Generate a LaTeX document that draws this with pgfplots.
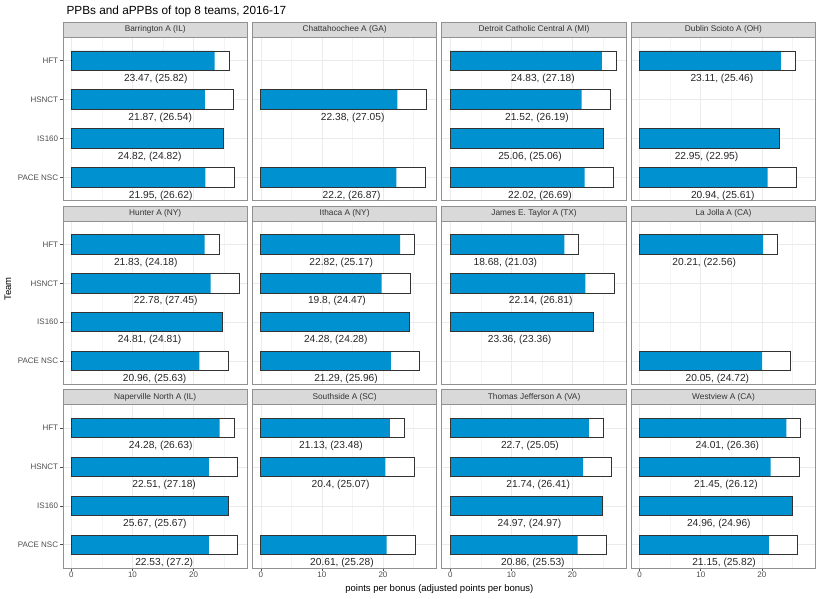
\documentclass[border=0pt]{standalone}
\usepackage{fontspec}
\setmainfont{Liberation Sans}
\usepackage{pgfplots}
\usepackage{pgfplotstable}
\pgfplotsset{compat=1.18}

\definecolor{ppbblue}{RGB}{0,146,208}
\definecolor{gridmaj}{RGB}{235,235,235}
\definecolor{gridmin}{RGB}{244,244,244}
\definecolor{panelline}{RGB}{145,145,145}
\definecolor{stripgray}{RGB}{217,217,217}
\definecolor{barline}{RGB}{51,51,51}
\definecolor{tickcol}{RGB}{77,77,77}

\newcommand\tickfont{\fontsize{8}{9}\selectfont}
\newcommand\labfont{\fontsize{10.2}{12}\selectfont}

% y: 1=HFT 2=HSNCT 3=IS160 4=PACE NSC
\pgfplotstableread{
y ppb appb lab
1 23.47 25.82 {23.47, (25.82)}
2 21.87 26.54 {21.87, (26.54)}
3 24.82 24.82 {24.82, (24.82)}
4 21.95 26.62 {21.95, (26.62)}
}\barrington
\pgfplotstableread{
y ppb appb lab
2 22.38 27.05 {22.38, (27.05)}
4 22.2 26.87 {22.2, (26.87)}
}\chattahoochee
\pgfplotstableread{
y ppb appb lab
1 24.83 27.18 {24.83, (27.18)}
2 21.52 26.19 {21.52, (26.19)}
3 25.06 25.06 {25.06, (25.06)}
4 22.02 26.69 {22.02, (26.69)}
}\detroit
\pgfplotstableread{
y ppb appb lab
1 23.11 25.46 {23.11, (25.46)}
3 22.95 22.95 {22.95, (22.95)}
4 20.94 25.61 {20.94, (25.61)}
}\dublin
\pgfplotstableread{
y ppb appb lab
1 21.83 24.18 {21.83, (24.18)}
2 22.78 27.45 {22.78, (27.45)}
3 24.81 24.81 {24.81, (24.81)}
4 20.96 25.63 {20.96, (25.63)}
}\hunter
\pgfplotstableread{
y ppb appb lab
1 22.82 25.17 {22.82, (25.17)}
2 19.8 24.47 {19.8, (24.47)}
3 24.28 24.28 {24.28, (24.28)}
4 21.29 25.96 {21.29, (25.96)}
}\ithaca
\pgfplotstableread{
y ppb appb lab
1 18.68 21.03 {18.68, (21.03)}
2 22.14 26.81 {22.14, (26.81)}
3 23.36 23.36 {23.36, (23.36)}
}\taylor
\pgfplotstableread{
y ppb appb lab
1 20.21 22.56 {20.21, (22.56)}
4 20.05 24.72 {20.05, (24.72)}
}\lajolla
\pgfplotstableread{
y ppb appb lab
1 24.28 26.63 {24.28, (26.63)}
2 22.51 27.18 {22.51, (27.18)}
3 25.67 25.67 {25.67, (25.67)}
4 22.53 27.2 {22.53, (27.2)}
}\naperville
\pgfplotstableread{
y ppb appb lab
1 21.13 23.48 {21.13, (23.48)}
2 20.4 25.07 {20.4, (25.07)}
4 20.61 25.28 {20.61, (25.28)}
}\southside
\pgfplotstableread{
y ppb appb lab
1 22.7 25.05 {22.7, (25.05)}
2 21.74 26.41 {21.74, (26.41)}
3 24.97 24.97 {24.97, (24.97)}
4 20.86 25.53 {20.86, (25.53)}
}\jefferson
\pgfplotstableread{
y ppb appb lab
1 24.01 26.36 {24.01, (26.36)}
2 21.45 26.12 {21.45, (26.12)}
3 24.96 24.96 {24.96, (24.96)}
4 21.15 25.82 {21.15, (25.82)}
}\westview

\pgfplotsset{
  panel/.style={
    scale only axis, width=184.4pt, height=163.4pt,
    anchor=north west,
    xmin=-1.3725, xmax=28.8225, ymin=0.4, ymax=4.6, y dir=reverse,
    xtick={0,10,20}, minor xtick={5,15,25}, ytick={1,2,3,4},
    xmajorgrids, xminorgrids, ymajorgrids,
    major grid style={draw=gridmaj, line width=0.6pt},
    minor grid style={draw=gridmin, line width=0.4pt},
    axis line style={draw=panelline, line width=0.9pt},
    tick align=outside, tick pos=left,
    major tick length=2.7pt, minor tick length=0pt,
    /pgf/number format/assume math mode=true,
    xticklabel style={font=\tickfont, text=tickcol, inner sep=1pt},
    yticklabel style={font=\tickfont, text=tickcol, inner sep=2pt},
    xticklabels={}, yticklabels={},
    clip=false,
  },
  showx/.style={xticklabels={0,10,20}, xtick style={draw=tickcol, line width=0.6pt}},
  hidex/.style={xtick style={draw=none}},
  showy/.style={yticklabels={HFT,HSNCT,IS160,PACE NSC}, ytick style={draw=tickcol, line width=0.6pt}},
  hidey/.style={ytick style={draw=none}},
}

\newcommand{\panel}[5]{%
  \pgfmathsetmacro\px{63+189.43*#1}
  \pgfmathsetmacro\py{37.3+183.7*#2}
  \begin{axis}[panel, at={(\px pt,-\py pt)}, #5]
    \addplot[xbar, bar width=0.5, bar shift=0pt, fill=white, draw=none] table[x=appb, y=y] {#4};
    \addplot[xbar, bar width=0.5, bar shift=0pt, fill=ppbblue, draw=none] table[x=ppb, y=y] {#4};
    \addplot[xbar, bar width=0.5, bar shift=0pt, fill=none, draw=barline, line width=0.8pt] table[x=appb, y=y] {#4};
    \addplot[only marks, mark=none, point meta=explicit symbolic, nodes near coords,
      nodes near coords style={anchor=base, inner sep=0pt, font=\labfont, text=black!85}]
      table[x expr=\thisrow{appb}-12, y expr=\thisrow{y}+0.532, meta=lab] {#4};
  \end{axis}
  \draw[fill=stripgray, draw=panelline, line width=0.9pt] (\px pt,-\py pt) rectangle ++(184.4pt,15pt);
  \node[font=\fontsize{8.3}{9}\selectfont, text=black!80, anchor=center] at (\px pt+92.2pt,-\py pt+7.6pt) {#3};
}

\begin{document}
\begin{tikzpicture}
\useasboundingbox (0,0) rectangle (821pt,-598pt);
\panel{0}{0}{Barrington A (IL)}{\barrington}{hidex, showy}
\panel{1}{0}{Chattahoochee A (GA)}{\chattahoochee}{hidex, hidey}
\panel{2}{0}{Detroit Catholic Central A (MI)}{\detroit}{hidex, hidey}
\panel{3}{0}{Dublin Scioto A (OH)}{\dublin}{hidex, hidey}
\panel{0}{1}{Hunter A (NY)}{\hunter}{hidex, showy}
\panel{1}{1}{Ithaca A (NY)}{\ithaca}{hidex, hidey}
\panel{2}{1}{James E. Taylor A (TX)}{\taylor}{hidex, hidey}
\panel{3}{1}{La Jolla A (CA)}{\lajolla}{hidex, hidey}
\panel{0}{2}{Naperville North A (IL)}{\naperville}{showx, showy}
\panel{1}{2}{Southside A (SC)}{\southside}{showx, hidey}
\panel{2}{2}{Thomas Jefferson A (VA)}{\jefferson}{showx, hidey}
\panel{3}{2}{Westview A (CA)}{\westview}{showx, hidey}
\node[anchor=base west, font=\fontsize{11.8}{13}\selectfont] at (63pt,-14pt) {PPBs and aPPBs of top 8 teams, 2016-17};
\node[rotate=90, font=\fontsize{9.5}{11}\selectfont] at (8pt,-289pt) {Team};
\node[anchor=base, font=\fontsize{9.5}{11}\selectfont] at (439.4pt,-591pt) {points per bonus (adjusted points per bonus)};
\end{tikzpicture}
\end{document}
